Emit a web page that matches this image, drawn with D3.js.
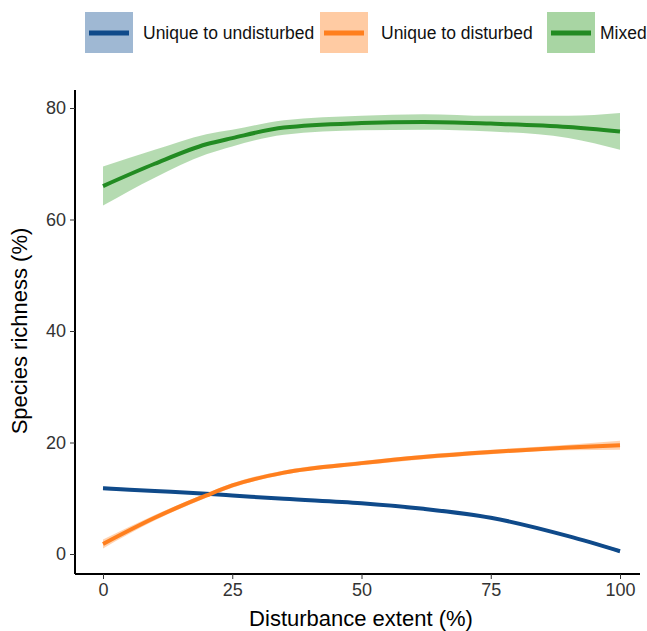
<!DOCTYPE html>
<html><head><meta charset="utf-8">
<script src="https://cdn.jsdelivr.net/npm/d3@7"></script>
<style>body{margin:0;background:#fff}text{font-family:Arial,"Liberation Sans",sans-serif}</style>
</head><body><svg id="c" width="647" height="631"></svg>
<script>
const xVals=[0,10,20,25,35,50,62,75,90,100];
const mixed=[66,70,73.5,74.6,76.5,77.3,77.5,77.2,76.6,75.8];
const mixedSe=[3.5,2.5,1.8,1.5,1.3,1.3,1.4,1.4,2.0,3.3];
const disturbed=[1.8,6.5,10.5,12.3,14.6,16.3,17.4,18.3,19.1,19.5];
const disturbedSe=[0.8,0.5,0.4,0.4,0.4,0.4,0.4,0.4,0.5,0.8];
const undisturbed=[11.8,11.3,10.8,10.5,9.9,9.1,8.1,6.5,3.2,0.5];
const undisturbedSe=[0.3,0.2,0.2,0.2,0.2,0.2,0.2,0.2,0.2,0.3];
const xTicks=[0,25,50,75,100], yTicks=[0,20,40,60,80];
const seriesNames=["Unique to undisturbed","Unique to disturbed","Mixed"];
const lineCols=["#0f4a8a","#ff7f1e","#228b22"];
const fillCols=["#9fb8d3","#ffcba3","#a8d5a3"];

const svg=d3.select("#c");
const x=d3.scaleLinear().domain([0,100]).range([103,620]);
const y=d3.scaleLinear().domain([0,80]).range([554,108]);
const series=[[undisturbed,undisturbedSe],[disturbed,disturbedSe],[mixed,mixedSe]];
const area=d3.area().curve(d3.curveMonotoneX).x((d,i)=>x(xVals[i])).y0(d=>y(d[0]-d[1])).y1(d=>y(d[0]+d[1]));
const line=d3.line().curve(d3.curveMonotoneX).x((d,i)=>x(xVals[i])).y(d=>y(d));
series.forEach(([v,s],k)=>{
  svg.append("path").datum(v.map((d,i)=>[d,s[i]])).attr("d",area).attr("fill",fillCols[k]).attr("opacity",0.85);
});
series.forEach(([v],k)=>{
  svg.append("path").datum(v).attr("d",line).attr("fill","none").attr("stroke",lineCols[k]).attr("stroke-width",4);
});
const xa=svg.append("g").attr("transform","translate(0,574)").call(d3.axisBottom(x).tickValues(xTicks).tickSize(5).tickPadding(4));
xa.select(".domain").attr("d","M75,0H640").attr("stroke","#000").attr("stroke-width",2);
const ya=svg.append("g").attr("transform","translate(75,0)").call(d3.axisLeft(y).tickValues(yTicks).tickSize(5).tickPadding(4));
ya.select(".domain").attr("d","M0,90V574").attr("stroke","#000").attr("stroke-width",2);
svg.selectAll(".tick text").attr("font-size",18).attr("fill","#333").attr("font-family","Arial,'Liberation Sans',sans-serif");
svg.selectAll(".tick line").attr("stroke","#333");
svg.append("text").attr("x",361).attr("y",626).attr("text-anchor","middle").attr("font-size",22).attr("fill","#000").text("Disturbance extent (%)");
svg.append("text").attr("transform","translate(27,331) rotate(-90)").attr("text-anchor","middle").attr("font-size",22).attr("fill","#000").text("Species richness (%)");
const lx=[85,320,547], tx=[143,381,600];
seriesNames.forEach((n,k)=>{
  const g=svg.append("g");
  g.append("rect").attr("x",lx[k]).attr("y",12).attr("width",48).attr("height",41).attr("fill",fillCols[k]);
  g.append("line").attr("x1",lx[k]+4).attr("x2",lx[k]+44).attr("y1",33).attr("y2",33).attr("stroke",lineCols[k]).attr("stroke-width",5);
  g.append("text").attr("x",tx[k]).attr("y",39).attr("font-size",17.5).attr("fill","#111").text(n);
});
</script></body></html>
